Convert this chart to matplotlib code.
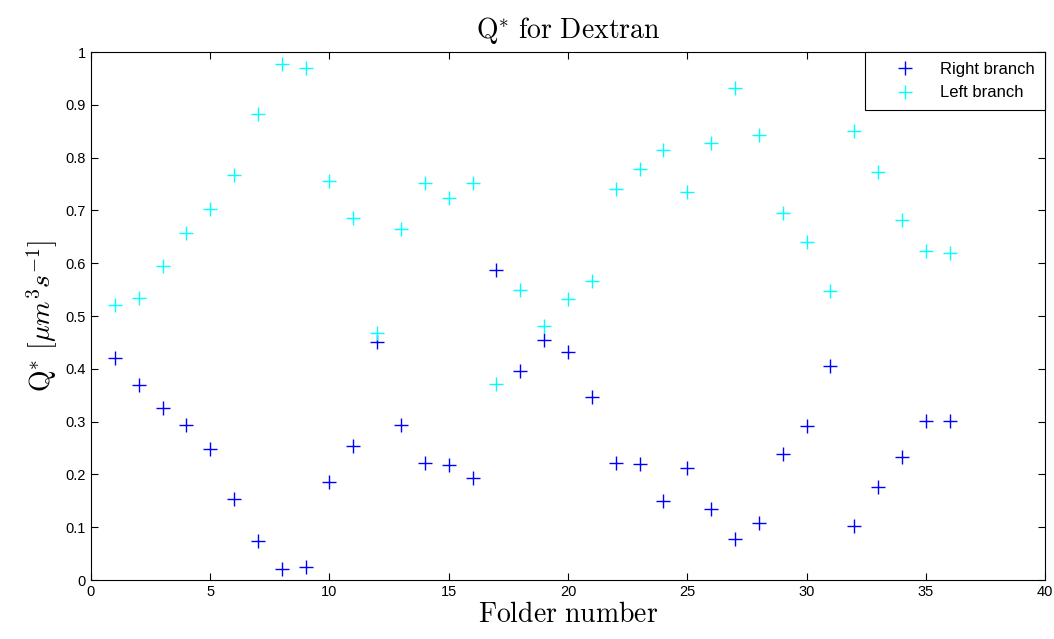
import numpy as np
import matplotlib
matplotlib.use("Agg")
import matplotlib.pyplot as plt

plt.rcParams['mathtext.fontset'] = 'cm'
plt.rcParams['font.family'] = ['Liberation Sans', 'DejaVu Sans']

folders = np.arange(1, 37)
right_branch = [0.42, 0.37, 0.325, 0.293, 0.248, 0.153, 0.073, 0.02, 0.025, 0.185,
                0.253, 0.45, 0.293, 0.222, 0.217, 0.193, 0.588, 0.395, 0.455, 0.432,
                0.347, 0.222, 0.22, 0.15, 0.212, 0.135, 0.078, 0.108, 0.238, 0.292,
                0.405, 0.103, 0.177, 0.233, 0.302, 0.302]
left_branch = [0.52, 0.535, 0.595, 0.658, 0.703, 0.768, 0.882, 0.977, 0.97, 0.755,
               0.685, 0.468, 0.665, 0.752, 0.723, 0.752, 0.372, 0.55, 0.482, 0.532,
               0.567, 0.74, 0.778, 0.815, 0.735, 0.828, 0.932, 0.843, 0.695, 0.64,
               0.547, 0.85, 0.773, 0.682, 0.623, 0.62]

fig = plt.figure(figsize=(10.54, 6.39), dpi=100)
ax = fig.add_axes([0.0863, 0.0923, 0.9052, 0.8263])

ax.plot(folders, right_branch, '+', color='blue', markersize=10, markeredgewidth=1.0, label='Right branch')
ax.plot(folders, left_branch, '+', color='cyan', markersize=10, markeredgewidth=1.0, label='Left branch')

ax.set_xlim(0, 40)
ax.set_ylim(0, 1)
ax.set_xticks(np.arange(0, 41, 5))
ax.set_yticks(np.arange(0, 1.01, 0.1))
ax.set_yticklabels(['0', '0.1', '0.2', '0.3', '0.4', '0.5', '0.6', '0.7', '0.8', '0.9', '1'])
ax.tick_params(direction='in', top=True, right=True, labelsize=10.5, length=5)

ax.set_title(r'$\mathrm{Q^{*}\ for\ Dextran}$', fontsize=20, pad=10)
ax.set_xlabel(r'$\mathrm{Folder\ number}$', fontsize=20, labelpad=2)
ax.set_ylabel(r'$\mathrm{Q^{*}}\ [\mu m^{3} s^{-1}]$', fontsize=20, labelpad=4)

leg = ax.legend(loc='upper right', fontsize=12, fancybox=False, framealpha=1,
                edgecolor='black', borderaxespad=0, handlelength=3.6,
                handletextpad=0.3, borderpad=0.6, labelspacing=0.5)
leg.get_frame().set_linewidth(0.8)

fig.savefig('out.png', dpi=100)
